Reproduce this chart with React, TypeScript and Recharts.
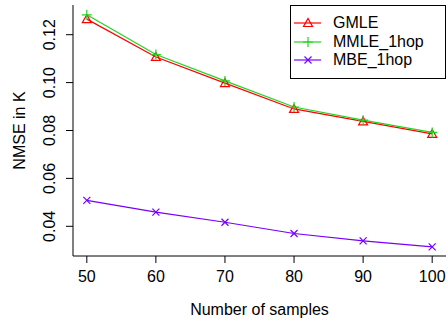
import React from "react";
import { LineChart, Line, XAxis, YAxis, Legend } from "recharts";

const samples = [50, 60, 70, 80, 90, 100];
const gmle = [0.1265, 0.1107, 0.0998, 0.089, 0.0838, 0.0786];
const mmle1hop = [0.1283, 0.1117, 0.1007, 0.0898, 0.0843, 0.0792];
const mbe1hop = [0.0508, 0.0459, 0.0417, 0.037, 0.0339, 0.0314];

const xTicks = [50, 60, 70, 80, 90, 100];
const yTicks = [0.04, 0.06, 0.08, 0.1, 0.12];

const data = samples.map((n, i) => ({
  n,
  gmle: gmle[i],
  mmle: mmle1hop[i],
  mbe: mbe1hop[i],
}));

const FONT = "'Liberation Sans', Arial, sans-serif";

const Triangle = ({ cx, cy, color }: any) => (
  <polygon
    points={`${cx - 4.5},${cy + 3.5} ${cx + 4.5},${cy + 3.5} ${cx},${cy - 4.5}`}
    fill="none"
    stroke={color}
    strokeWidth={1.2}
  />
);

const Plus = ({ cx, cy, color }: any) => (
  <path
    d={`M${cx - 5},${cy}H${cx + 5}M${cx},${cy - 5}V${cy + 5}`}
    stroke={color}
    strokeWidth={1.2}
    fill="none"
  />
);

const Cross = ({ cx, cy, color }: any) => (
  <path
    d={`M${cx - 3.5},${cy - 3.5}L${cx + 3.5},${cy + 3.5}M${cx - 3.5},${cy + 3.5}L${cx + 3.5},${cy - 3.5}`}
    stroke={color}
    strokeWidth={1.2}
    fill="none"
  />
);

const series = [
  { key: "gmle", name: "GMLE", color: "#ff0000", Marker: Triangle },
  { key: "mmle", name: "MMLE_1hop", color: "#22d422", Marker: Plus },
  { key: "mbe", name: "MBE_1hop", color: "#7700ff", Marker: Cross },
];

const XTick = ({ x, y, payload }: any) => (
  <text x={x} y={y + 17} textAnchor="middle" fontSize={16} fontFamily={FONT} fill="#000">
    {payload.value}
  </text>
);

const YTick = ({ x, y, payload }: any) => (
  <text
    x={x}
    y={y}
    transform={`rotate(-90, ${x}, ${y})`}
    textAnchor="middle"
    fontSize={16}
    fontFamily={FONT}
    fill="#000"
  >
    {payload.value.toFixed(2)}
  </text>
);

const renderLegend = () => (
  <div
    style={{
      border: "1px solid #000",
      background: "#fff",
      width: 156,
      height: 74,
      boxSizing: "border-box",
      paddingTop: 8,
      fontFamily: FONT,
      fontSize: 16,
    }}
  >
    {series.map(({ key, name, color, Marker }) => (
      <div key={key} style={{ display: "flex", alignItems: "center", height: 18.5 }}>
        <svg width={40} height={18} style={{ flex: "none" }}>
          <line x1={3} y1={9} x2={30} y2={9} stroke={color} strokeWidth={1.2} />
          <Marker cx={17} cy={9} color={color} />
        </svg>
        <span style={{ lineHeight: "18px", marginLeft: 2 }}>{name}</span>
      </div>
    ))}
  </div>
);

export default function App() {
  return (
    <div style={{ position: "absolute", left: 0, top: 0, background: "#fff" }}>
      <LineChart width={448} height={322} data={data} margin={{ top: 5, right: 2, left: 0, bottom: 0 }}>
        <XAxis
          dataKey="n"
          type="number"
          domain={[48, 102]}
          ticks={xTicks}
          interval={0}
          height={66}
          tickSize={7}
          tickMargin={2}
          tick={<XTick />}
          axisLine={{ stroke: "#000" }}
          tickLine={{ stroke: "#000" }}
          label={{
            value: "Number of samples",
            position: "insideBottom",
            offset: 7,
            fontSize: 16,
            fontFamily: FONT,
            fill: "#000",
          }}
        />
        <XAxis xAxisId="top" dataKey="n" type="number" domain={[48, 102]} orientation="top" height={0} tick={false} tickLine={false} axisLine={{ stroke: "#000" }} />
        <YAxis
          type="number"
          domain={[0.0276, 0.1324]}
          ticks={yTicks}
          interval={0}
          width={73}
          tickSize={7}
          tickMargin={11}
          tick={<YTick />}
          axisLine={{ stroke: "#000" }}
          tickLine={{ stroke: "#000" }}
          label={{
            value: "NMSE in K",
            angle: -90,
            position: "insideLeft",
            offset: 19,
            style: { textAnchor: "middle" },
            fontSize: 16,
            fontFamily: FONT,
            fill: "#000",
          }}
        />
        <YAxis yAxisId="right" orientation="right" width={0} tick={false} tickLine={false} axisLine={{ stroke: "#000" }} />
        {series.map(({ key, name, color, Marker }) => (
          <Line
            key={key}
            dataKey={key}
            name={name}
            stroke={color}
            strokeWidth={1.2}
            type="linear"
            isAnimationActive={false}
            dot={(p: any) => <Marker key={`${key}-${p.index}`} cx={p.cx} cy={p.cy} color={color} />}
            activeDot={false}
          />
        ))}
        <Legend
          layout="vertical"
          align="center"
          verticalAlign="middle"
          content={renderLegend}
          wrapperStyle={{ left: 290, top: 5, width: 156, height: 74 }}
        />
      </LineChart>
    </div>
  );
}
